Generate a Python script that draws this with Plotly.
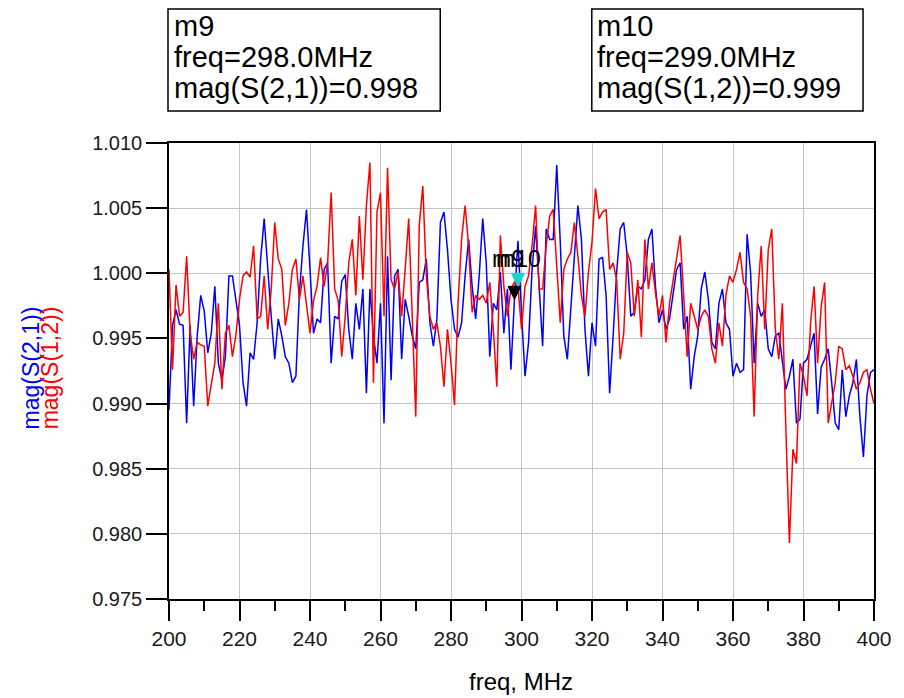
import plotly.graph_objects as go

# Frequency sweep, 200 MHz to 400 MHz in 1 MHz steps
freq_mhz = list(range(200, 401))

# mag(S(2,1)) — forward transmission
s21_mag = [
    0.9895, 0.9960, 0.9972, 0.9961, 0.9960, 0.9885, 0.9960, 0.9898, 0.9952, 0.9983,
    0.9971, 0.9939, 0.9954, 0.9990, 0.9931, 0.9918, 0.9936, 0.9998, 0.9998, 0.9979,
    0.9960, 0.9916, 0.9898, 0.9939, 0.9934, 0.9962, 1.0011, 1.0042, 1.0003, 0.9967,
    0.9934, 0.9965, 0.9952, 0.9936, 0.9931, 0.9916, 0.9921, 0.9985, 1.0021, 1.0049,
    1.0003, 0.9954, 0.9965, 0.9962, 1.0003, 1.0008, 0.9931, 0.9967, 0.9965, 0.9994,
    0.9999, 0.9957, 0.9934, 0.9977, 0.9957, 0.9988, 0.9908, 0.9988, 0.9952, 0.9931,
    0.9977, 0.9885, 1.0013, 0.9918, 0.9998, 1.0003, 0.9934, 0.9980, 0.9967, 0.9952,
    0.9942, 0.9993, 0.9995, 1.0011, 0.9962, 0.9944, 0.9965, 1.0039, 1.0047, 1.0018,
    0.9980, 0.9957, 0.9951, 0.9962, 0.9998, 1.0026, 0.9990, 0.9965, 0.9998, 1.0042,
    1.0008, 0.9936, 0.9977, 0.9972, 1.0001, 0.9954, 0.9988, 0.9926, 0.9980, 1.0025,
    0.9970, 0.9921, 0.9947, 1.0003, 1.0036, 0.9990, 0.9944, 1.0034, 1.0026, 1.0026,
    1.0083, 1.0024, 0.9952, 0.9934, 0.9977, 1.0013, 1.0052, 1.0026, 0.9957, 0.9921,
    0.9962, 0.9944, 1.0011, 1.0012, 0.9983, 0.9908, 0.9952, 1.0001, 1.0034, 1.0039,
    1.0013, 0.9967, 0.9970, 0.9990, 0.9988, 0.9995, 1.0026, 1.0034, 0.9990, 0.9962,
    0.9972, 0.9957, 0.9965, 0.9983, 1.0003, 1.0008, 0.9957, 0.9967, 0.9911, 0.9936,
    0.9952, 0.9988, 1.0001, 0.9980, 0.9947, 0.9942, 0.9977, 0.9988, 0.9962, 0.9957,
    0.9921, 0.9931, 0.9924, 0.9926, 1.0030, 1.0000, 0.9931, 0.9977, 0.9967, 0.9972,
    0.9942, 0.9936, 0.9952, 0.9954, 0.9934, 0.9911, 0.9921, 0.9934, 0.9885, 0.9888,
    0.9931, 0.9934, 0.9944, 0.9954, 0.9892, 0.9928, 0.9934, 0.9942, 0.9916, 0.9885,
    0.9880, 0.9926, 0.9890, 0.9906, 0.9916, 0.9934, 0.9890, 0.9859, 0.9906, 0.9924,
    0.9926,
]

# mag(S(1,2)) — reverse transmission
s12_mag = [
    1.0003, 0.9926, 0.9991, 0.9967, 0.9970, 1.0013, 0.9954, 0.9934, 0.9947, 0.9945,
    0.9944, 0.9898, 0.9915, 0.9931, 0.9977, 0.9911, 0.9954, 0.9960, 0.9936, 0.9953,
    0.9980, 0.9998, 1.0001, 0.9997, 1.0021, 0.9965, 0.9967, 0.9998, 0.9957, 0.9988,
    1.0039, 1.0011, 1.0003, 0.9960, 0.9977, 1.0003, 1.0011, 0.9980, 0.9998, 0.9977,
    0.9954, 0.9979, 0.9990, 1.0012, 0.9990, 1.0008, 1.0062, 0.9988, 0.9979, 0.9936,
    0.9967, 1.0008, 1.0026, 0.9983, 1.0044, 0.9995, 1.0052, 1.0085, 0.9916, 1.0047,
    1.0062, 0.9967, 1.0081, 0.9995, 0.9988, 1.0001, 0.9967, 1.0003, 1.0042, 0.9967,
    0.9890, 1.0037, 1.0067, 0.9998, 0.9967, 0.9957, 0.9962, 0.9944, 0.9913, 0.9957,
    0.9931, 0.9899, 0.9977, 1.0026, 1.0052, 1.0021, 0.9970, 0.9983, 0.9980, 0.9983,
    0.9977, 0.9993, 0.9957, 0.9913, 1.0029, 0.9990, 0.9967, 0.9988, 0.9993, 0.9990,
    0.9957, 0.9990, 0.9998, 1.0021, 1.0052, 0.9988, 0.9988, 1.0021, 1.0044, 1.0049,
    1.0003, 0.9962, 1.0003, 1.0011, 1.0016, 1.0039, 1.0013, 0.9983, 0.9967, 1.0001,
    1.0024, 1.0065, 1.0042, 1.0047, 1.0049, 1.0003, 1.0008, 0.9995, 0.9934, 0.9954,
    1.0016, 1.0008, 0.9967, 0.9995, 0.9951, 1.0026, 0.9988, 1.0008, 0.9985, 0.9967,
    0.9983, 0.9947, 0.9977, 0.9995, 1.0013, 1.0029, 0.9983, 0.9936, 0.9977, 0.9967,
    0.9957, 0.9967, 0.9972, 0.9967, 0.9942, 0.9931, 0.9962, 0.9944, 0.9983, 0.9998,
    0.9993, 1.0003, 1.0016, 0.9993, 0.9988, 0.9967, 0.9890, 0.9983, 1.0021, 0.9957,
    1.0018, 1.0034, 0.9957, 0.9934, 0.9977, 0.9880, 0.9793, 0.9865, 0.9854, 0.9931,
    0.9921, 0.9906, 0.9962, 0.9990, 0.9931, 0.9974, 0.9993, 0.9885, 0.9900, 0.9916,
    0.9944, 0.9942, 0.9926, 0.9929, 0.9921, 0.9911, 0.9916, 0.9924, 0.9926, 0.9911,
    0.9900,
]

y_ticks = [0.975, 0.980, 0.985, 0.990, 0.995, 1.000, 1.005, 1.010]
x_ticks = list(range(200, 401, 20))

# Marker readouts
m9_freq = 298
m10_freq = 299
m9_val = s21_mag[freq_mhz.index(m9_freq)]
m10_val = s12_mag[freq_mhz.index(m10_freq)]

FONT = "Arial, Liberation Sans, sans-serif"

fig = go.Figure()
fig.add_trace(go.Scatter(x=freq_mhz, y=s21_mag, mode="lines",
                         line=dict(color="#0000ff", width=1.5),
                         name="mag(S(2,1))", showlegend=False))
fig.add_trace(go.Scatter(x=freq_mhz, y=s12_mag, mode="lines",
                         line=dict(color="#ff0000", width=1.5),
                         name="mag(S(1,2))", showlegend=False))

shapes = []
# marker triangles: apex on the data point, body above it
for f, v, col in [(m9_freq, m9_val, "#000000"), (m10_freq, m10_val, "#18d6c6")]:
    shapes.append(dict(type="path", xref="x", yref="y",
                       xsizemode="pixel", ysizemode="pixel",
                       xanchor=f, yanchor=v,
                       path="M -6.5 13 L 6.5 13 L 0 0 Z",
                       fillcolor=col, line=dict(color=col, width=1), layer="above"))

# readout boxes above the plot
PW, PH, L, B = 707.0, 456.0, 169.0, 599.0
def px(x):
    return (x - L) / PW
def py(y):
    return (B - y) / PH

for x0, x1 in [(168, 441), (593, 865)]:
    shapes.append(dict(type="rect", xref="paper", yref="paper",
                       x0=px(x0), x1=px(x1), y0=py(111), y1=py(9),
                       line=dict(color="#000000", width=1.5), fillcolor="white",
                       layer="above"))

annotations = []
box_lines = [
    (172, ["m9", f"freq={m9_freq:.1f}MHz", f"mag(S(2,1))={m9_val:.3f}"]),
    (596, ["m10", f"freq={m10_freq:.1f}MHz", f"mag(S(1,2))={m10_val:.3f}"]),
]
for xl, lines in box_lines:
    for yc, txt in zip([26, 57, 88], lines):
        annotations.append(dict(xref="paper", yref="paper", x=px(xl), y=py(yc),
                                xanchor="left", yanchor="middle", showarrow=False,
                                text=txt, font=dict(family=FONT, size=29, color="#000000")))

# marker labels next to the triangles
annotations.append(dict(x=m9_freq, y=m9_val, xref="x", yref="y", showarrow=False,
                        text="m9", xshift=-6, yshift=40,
                        font=dict(family=FONT, size=23, color="#000000")))
annotations.append(dict(x=m10_freq, y=m10_val, xref="x", yref="y", showarrow=False,
                        text="m10", xshift=1, yshift=27,
                        font=dict(family=FONT, size=23, color="#000000")))

# stacked y-axis titles
annotations.append(dict(xref="paper", yref="paper", x=px(31), y=py(368),
                        xanchor="center", yanchor="middle", textangle=-90,
                        showarrow=False, text="mag(S(2,1))",
                        font=dict(family=FONT, size=23, color="#0000ff")))
annotations.append(dict(xref="paper", yref="paper", x=px(50), y=py(368),
                        xanchor="center", yanchor="middle", textangle=-90,
                        showarrow=False, text="mag(S(1,2))",
                        font=dict(family=FONT, size=23, color="#ff0000")))
# x-axis title
annotations.append(dict(xref="paper", yref="paper", x=px(522), y=py(681),
                        xanchor="center", yanchor="middle", showarrow=False,
                        text="freq, MHz",
                        font=dict(family=FONT, size=24, color="#000000")))

fig.update_layout(
    width=904, height=698,
    margin=dict(l=169, r=28, t=143, b=99),
    paper_bgcolor="white", plot_bgcolor="white",
    shapes=shapes, annotations=annotations,
    font=dict(family=FONT, color="#1a1a1a"),
)
fig.update_xaxes(range=[200, 400], tickvals=x_ticks, ticktext=[str(t) for t in x_ticks],
                 showgrid=True, gridcolor="#c4c4c4", gridwidth=1.2,
                 showline=True, linecolor="#000000", linewidth=1.5, mirror=True,
                 ticks="outside", ticklen=20, tickwidth=1.5, tickcolor="#000000",
                 tickfont=dict(family=FONT, size=21, color="#1a1a1a"),
                 minor=dict(dtick=10, tick0=200, ticks="outside", ticklen=10,
                            tickwidth=1.5, tickcolor="#000000", showgrid=False),
                 zeroline=False)
fig.update_yaxes(range=[0.975, 1.010], tickvals=y_ticks,
                 ticktext=[f"{t:.3f}" for t in y_ticks],
                 showgrid=True, gridcolor="#c4c4c4", gridwidth=1.2,
                 showline=True, linecolor="#000000", linewidth=1.5, mirror=True,
                 ticks="outside", ticklen=21, tickwidth=1.5, tickcolor="#000000",
                 tickfont=dict(family=FONT, size=20, color="#1a1a1a"),
                 zeroline=False)

fig.write_html("out.html")
